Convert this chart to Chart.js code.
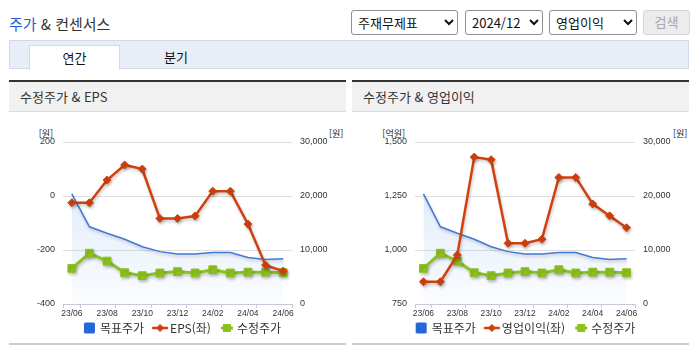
<!DOCTYPE html>
<html lang="ko">
<head>
<meta charset="utf-8">
<script src="https://cdn.jsdelivr.net/npm/chart.js@4.4.1/dist/chart.umd.min.js"></script>
<style>
  body { margin:0; width:695px; height:349px; background:#fff; position:relative; overflow:hidden;
         font-family:'Noto Sans CJK KR','Noto Sans',sans-serif; color:#333; }
  .abs { position:absolute; }
  #title { left:9px; top:13px; font-size:15px; line-height:22px; color:#333; }
  #title span { color:#2a5bd7; }
  select { position:absolute; top:10px; height:25px; font-size:13px; font-family:'Noto Sans CJK KR',sans-serif;
           border:1px solid #8f8f8f; border-radius:3px; background:#fff; color:#111; padding:0 2px; }
  #btn { left:643px; top:10px; width:47px; height:25px; box-sizing:border-box; background:#ececec; border:1px solid #d6d6d6;
         border-radius:3px; font-size:13px; color:#a8a8a8; text-align:center; line-height:22px; }
  #tabbar { left:9px; top:40px; width:680px; height:29px; box-sizing:border-box; background:#e8eef8; border:1px solid #cfd9ea; }
  #tab1 { left:29px; top:45px; width:91px; height:25px; box-sizing:border-box; background:#fff; border:1px solid #cfd9ea; border-bottom:none;
          font-size:13px; color:#111; text-align:center; line-height:23px; }
  #tab2 { left:150px; top:45px; width:52px; height:24px; font-size:13px; color:#111; text-align:center; line-height:23px; }
  .phead { top:80px; width:337px; height:32px; box-sizing:border-box; border-top:2px solid #333; border-bottom:1px solid #dcdcdc;
           background:#f1f1f1; font-size:13px; line-height:29px; padding-left:11px; color:#333; }
  .pfoot { top:343px; width:337px; height:2px; background:#cdcdcd; }
  canvas.chart { position:absolute; top:113px; }
  .unit { top:127px; font-size:9px; line-height:14px; color:#222; }
</style>
</head>
<body>
<div id="title" class="abs"><span>주가</span> &amp; 컨센서스</div>
<select style="left:351px;width:107px"><option>주재무제표</option></select>
<select style="left:465px;width:78px"><option>2024/12</option></select>
<select style="left:549px;width:88px"><option>영업이익</option></select>
<div id="btn" class="abs">검색</div>
<div id="tabbar" class="abs"></div>
<div id="tab1" class="abs">연간</div>
<div id="tab2" class="abs">분기</div>

<div class="abs phead" style="left:9px">수정주가 &amp; EPS</div>
<div class="abs phead" style="left:352px">수정주가 &amp; 영업이익</div>
<div class="abs unit" style="right:642px">[원]</div>
<div class="abs unit" style="left:329px">[원]</div>
<div class="abs unit" style="right:290px">[억원]</div>
<div class="abs unit" style="left:673px">[원]</div>
<canvas id="chartEps" class="chart" style="left:9px" width="337" height="231"></canvas>
<canvas id="chartOp" class="chart" style="left:352px" width="337" height="231"></canvas>
<div class="abs pfoot" style="left:9px"></div>
<div class="abs pfoot" style="left:352px"></div>

<script>
// --- DADOS ---
const months = ['23/06','23/07','23/08','23/09','23/10','23/11','23/12','24/01','24/02','24/03','24/04','24/05','24/06'];
const targetPrice = [20400, 14300, 13100, 12000, 10600, 9700, 9250, 9250, 9550, 9550, 8600, 8250, 8400];
const adjPrice = [6600, 9400, 7950, 5800, 5250, 5750, 6000, 5750, 6350, 5750, 5900, 5900, 5800];
const eps = [-25, -25, 59, 115, 100, -83, -83, -74, 18, 18, -104, -256, -278];
const opProfit = [853, 853, 977, 1430, 1418, 1031, 1031, 1050, 1336, 1336, 1213, 1158, 1103];
const epsAxis = [-400, 200, 200];      // min, max, step
const opAxis = [750, 1500, 250];
const priceAxis = [0, 30000, 10000];

const RED = '#d2400e';
const GREEN = '#8cc21e';
const BLUE_LINE = '#3f78d9';
const BLUE_BOX = '#2367d9';
const AXIS = '#c3cbd8';
const NUM_FONT = "'Liberation Sans', Arial, sans-serif";
const NARROW_FONT = "'Liberation Sans Narrow', 'Liberation Sans', Arial, sans-serif";
const KR_FONT = "'Noto Sans CJK KR', 'Noto Sans', sans-serif";

// marcadores da legenda (canvas de 30px, centrado no box de 20px)
function marker(draw) {
    const c = document.createElement('canvas');
    c.width = 30; c.height = 12;
    draw(c.getContext('2d'));
    return c;
}
const mkBlue = marker(g => { g.fillStyle = BLUE_BOX; g.beginPath(); g.roundRect(15, 0.5, 11, 11, 1.5); g.fill(); });
const mkRed = marker(g => {
    g.strokeStyle = RED; g.lineWidth = 2.5; g.beginPath(); g.moveTo(13, 6); g.lineTo(29, 6); g.stroke();
    g.fillStyle = RED; g.beginPath(); g.moveTo(21, 2); g.lineTo(25, 6); g.lineTo(21, 10); g.lineTo(17, 6); g.closePath(); g.fill();
});
const mkGreen = marker(g => {
    g.strokeStyle = GREEN; g.lineWidth = 3; g.beginPath(); g.moveTo(15, 6); g.lineTo(27, 6); g.stroke();
    g.fillStyle = GREEN; g.fillRect(17, 2, 8, 8);
});

const shadowPlugin = {
    id: 'lineShadow',
    beforeDatasetDraw(chart) {
        const c = chart.ctx;
        c.save();
        c.shadowColor = 'rgba(0,0,0,0.22)';
        c.shadowBlur = 3;
        c.shadowOffsetX = 1;
        c.shadowOffsetY = 2;
    },
    afterDatasetDraw(chart) { chart.ctx.restore(); }
};

function areaFill(c) {
    const ca = c.chart.chartArea;
    if (!ca) return 'rgba(150,190,240,0.2)';
    const g = c.chart.ctx.createLinearGradient(0, ca.top, 0, ca.bottom);
    g.addColorStop(0, 'rgba(150,190,240,0.40)');
    g.addColorStop(1, 'rgba(150,190,240,0.04)');
    return g;
}

function montarGrafico(id, leftLabel, leftData, leftAxis, leftWidth) {
    const labels = ['목표주가', leftLabel, '수정주가'];
    const marks = [mkBlue, mkRed, mkGreen];
    return new Chart(document.getElementById(id), {
        type: 'line',
        data: {
            labels: months,
            datasets: [
                { label: labels[0], data: targetPrice, yAxisID: 'y1', order: 3,
                  borderColor: BLUE_LINE, borderWidth: 1.5, pointRadius: 0, fill: 'start', backgroundColor: areaFill },
                { label: labels[1], data: leftData, yAxisID: 'y', order: 1,
                  borderColor: RED, backgroundColor: RED, borderWidth: 2.5,
                  pointStyle: 'rectRot', pointRadius: 4, pointBorderWidth: 1 },
                { label: labels[2], data: adjPrice, yAxisID: 'y1', order: 2,
                  borderColor: GREEN, backgroundColor: GREEN, borderWidth: 3,
                  pointStyle: 'rect', pointRadius: 5.5, pointBorderWidth: 1 }
            ]
        },
        options: {
            responsive: false,
            animation: false,
            layout: { padding: { top: 29, left: 0, right: 0, bottom: 0 } },
            plugins: {
                tooltip: { enabled: false },
                legend: {
                    position: 'bottom',
                    labels: {
                        usePointStyle: true, pointStyleWidth: 20, padding: 0,
                        font: { size: 12, family: KR_FONT }, color: '#333',
                        generateLabels: () => labels.map((t, i) => ({
                            text: t, pointStyle: marks[i], datasetIndex: i, hidden: false,
                            fillStyle: 'transparent', strokeStyle: 'transparent', lineWidth: 0, fontColor: '#333'
                        }))
                    }
                }
            },
            scales: {
                x: {
                    offset: true,
                    grid: {
                        offset: true, drawOnChartArea: false, drawTicks: true, tickLength: 4,
                        color: c => (c.index === undefined || c.index === 0 || c.index % 2 === 1) ? AXIS : 'rgba(0,0,0,0)'
                    },
                    border: { color: AXIS },
                    ticks: {
                        autoSkip: false, maxRotation: 0, padding: 1, color: '#333',
                        font: { size: 8.5, family: NARROW_FONT },
                        callback: (v, i) => i % 2 === 0 ? months[i] : ''
                    },
                    afterFit: s => { s.height = 18; }
                },
                y: {
                    position: 'left',
                    min: leftAxis[0], max: leftAxis[1],
                    ticks: { stepSize: leftAxis[2], padding: 8, color: '#333', font: { size: 9, family: NUM_FONT } },
                    grid: { color: '#dedede', drawTicks: false },
                    border: { display: false },
                    afterFit: s => { s.width = leftWidth; }
                },
                y1: {
                    position: 'right',
                    min: priceAxis[0], max: priceAxis[1],
                    ticks: { stepSize: priceAxis[2], padding: 8, color: '#333', font: { size: 9, family: NUM_FONT } },
                    grid: { display: false, drawTicks: false },
                    border: { display: false },
                    afterFit: s => { s.width = 54; }
                }
            }
        },
        plugins: [shadowPlugin]
    });
}

montarGrafico('chartEps', 'EPS(좌)', eps, epsAxis, 54);
montarGrafico('chartOp', '영업이익(좌)', opProfit, opAxis, 63);
</script>
</body>
</html>
